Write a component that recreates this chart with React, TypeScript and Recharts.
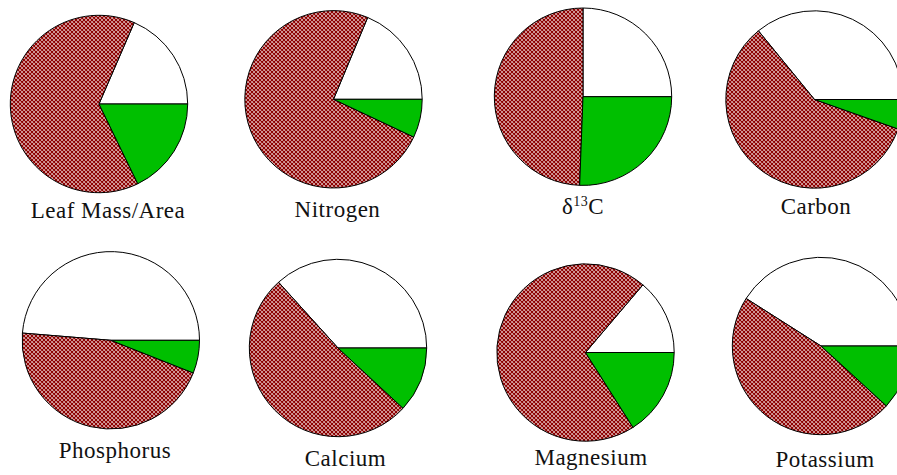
import React from 'react';
import { PieChart, Pie, Cell } from 'recharts';

// Data
const categories = ['Leaf Mass/Area', 'Nitrogen', 'δ13C', 'Carbon', 'Phosphorus', 'Calcium', 'Magnesium', 'Potassium'];
const seriesNames = ['white', 'hatched', 'green'];
const whiteShare = [18.5, 18.7, 25.0, 35.9, 48.7, 36.7, 13.8, 41.0];
const hatchShare = [63.7, 74.3, 49.4, 58.7, 45.3, 51.4, 70.2, 47.2];
const greenShare = [17.8, 7.0, 25.6, 5.4, 6.0, 11.9, 16.0, 11.8];

// Layout (pixels)
const W = 897;
const H = 475;
const pieCenters = [
  [99, 104], [333.5, 99.3], [583, 96.7], [814.5, 99.5],
  [110.8, 340.3], [338, 348], [585.5, 352.5], [821, 346],
];
const labelPos = [
  [108, 218], [337.5, 216.5], [583, 213.5], [816, 213.5],
  [115, 458], [345.5, 465.5], [591, 465], [825, 466.5],
];
const R = 88.7;
const fills = ['#ffffff', 'url(#crosshatch)', '#00bf00'];

const pieData = categories.map((c, i) => [
  { name: seriesNames[0], value: whiteShare[i] },
  { name: seriesNames[1], value: hatchShare[i] },
  { name: seriesNames[2], value: greenShare[i] },
]);

const labelStyle: React.CSSProperties = {
  fontFamily: '"Liberation Serif", "Times New Roman", serif',
  fontSize: 23,
  letterSpacing: 0.5,
  fill: '#111',
};

function renderLabel(cat: string, i: number) {
  const [x, y] = labelPos[i];
  if (cat === 'δ13C') {
    return (
      <text key={'l' + i} x={x} y={y} textAnchor="middle" style={labelStyle}>
        <tspan>δ</tspan>
        <tspan fontSize={14} dy={-8}>13</tspan>
        <tspan dy={8}>C</tspan>
      </text>
    );
  }
  return (
    <text key={'l' + i} x={x} y={y} textAnchor="middle" style={labelStyle}>
      {cat}
    </text>
  );
}

export default function App() {
  return (
    <div style={{ position: 'absolute', left: 0, top: 0, width: W, height: H, overflow: 'hidden', background: '#fff' }}>
      <PieChart width={W} height={H} margin={{ top: 0, right: 0, bottom: 0, left: 0 }}>
        <defs>
          <pattern id="crosshatch" patternUnits="userSpaceOnUse" width="4" height="4">
            <rect x="0" y="0" width="4" height="4" fill="#ffffff" />
            <path d="M0,0 L4,4 M4,0 L0,4 M-1,1 L1,-1 M3,5 L5,3 M-1,3 L1,5 M3,-1 L5,1" stroke="#8e0000" strokeWidth="1.3" />
          </pattern>
        </defs>
        {pieData.map((d, i) => (
          <Pie
            key={categories[i]}
            data={d}
            dataKey="value"
            nameKey="name"
            cx={pieCenters[i][0]}
            cy={pieCenters[i][1]}
            outerRadius={R}
            innerRadius={0}
            startAngle={0}
            endAngle={360}
            stroke="#000"
            strokeWidth={1}
            isAnimationActive={false}
            label={false}
            labelLine={false}
          >
            {d.map((entry, j) => (
              <Cell key={entry.name} fill={fills[j]} stroke="#000" strokeWidth={1} />
            ))}
          </Pie>
        ))}
        {categories.map((c, i) => renderLabel(c, i))}
      </PieChart>
    </div>
  );
}
